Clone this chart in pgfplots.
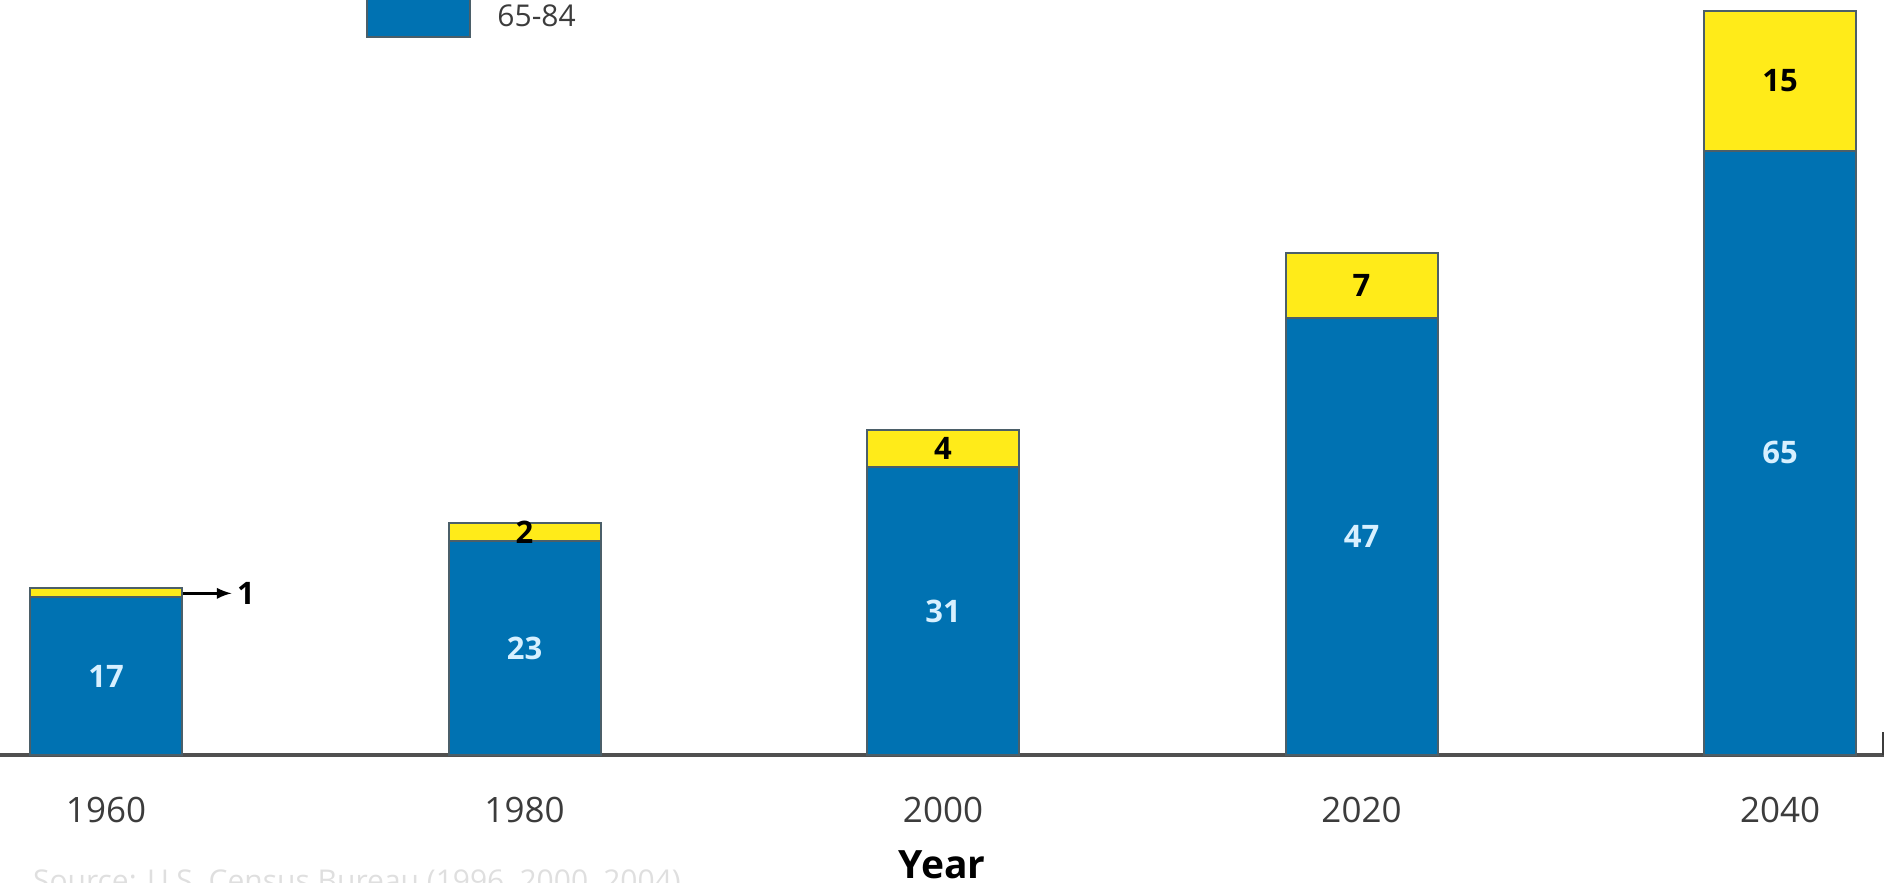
\documentclass[border=0pt]{standalone}
\usepackage{fontspec}
\setmainfont{Open Sans}
\usepackage{pgfplots}
\usepackage{pgfplotstable}
\pgfplotsset{compat=1.18}

\definecolor{cblue}{RGB}{0,114,178}
\definecolor{cyell}{RGB}{255,235,25}
\definecolor{edge}{RGB}{75,95,105}
\definecolor{tickc}{RGB}{60,60,60}
\definecolor{lbl}{RGB}{215,240,255}

% age 65-84 and 85+ (millions)
\pgfplotstableread{
x  young old  oldlab
0  17    1    {}
1  23    2    2
2  31    4    4
3  47    7    7
4  65    15   15
}\agedata

\begin{document}
\begin{tikzpicture}
\begin{axis}[
  name=ax,
  ybar stacked,
  x=209.25pt, y=4.65pt,
  bar width=76pt,
  xmin=-0.2533, xmax=4.2485,
  ymin=0, ymax=81.2,
  enlargelimits=false,
  axis x line*=bottom,
  axis y line=none,
  x axis line style={line width=2pt, color=tickc!90},
  xtick={0,1,2,3,4},
  xticklabels={1960,1980,2000,2020,2040},
  major tick length=0pt,
  xticklabel style={anchor=base, yshift=-33.5pt, text=tickc, font=\fontsize{17.5}{20}\selectfont},
  xlabel={Year},
  xlabel style={at={(axis description cs:0.5,0)}, anchor=base, yshift=-61.5pt, font=\bfseries\fontsize{19.5}{22}\selectfont},
  reverse legend,
  legend cell align=left,
  legend image code/.code={\draw[#1] (0pt,-9.5pt) rectangle (51.5pt,16.5pt);},
  legend style={at={(axis description cs:0.1943,0.9497)}, anchor=south west,
    draw=none, fill=none, inner sep=0pt, row sep=14pt, text=tickc,
    font=\fontsize{15}{18}\selectfont, nodes={inner sep=0pt},
    /tikz/every odd column/.append style={column sep=13pt}},
  nodes near coords={\pgfplotspointmeta},
  point meta=explicit symbolic,
  every node near coord/.append style={anchor=center, font=\bfseries\fontsize{15.5}{18}\selectfont},
]
\addplot[fill=cblue, draw=edge, line width=1pt,
  every node near coord/.append style={text=lbl}]
  table[x=x, y=young, meta=young] {\agedata};
\addplot[fill=cyell, draw=edge, line width=1pt,
  every node near coord/.append style={text=black}]
  table[x=x, y=old, meta=oldlab] {\agedata};
\legend{65-84, 85+}
% label for the thin 1960 segment
\draw[-latex, line width=1.5pt] (axis cs:0.182,17.4) -- (axis cs:0.30,17.4)
  node[right, inner sep=2pt, font=\bfseries\fontsize{15.5}{18}\selectfont] {1};
\draw[line width=1pt, color=tickc] (axis cs:4.247,0) -- (axis cs:4.247,2.5);
\end{axis}
\node[anchor=west, text=gray!25, font=\fontsize{15}{18}\selectfont] at ([yshift=-64pt, xshift=13pt]ax.south west)
  {Source: U.S. Census Bureau (1996, 2000, 2004)};
\pgfresetboundingbox
\path[use as bounding box] (ax.south west) ++(0pt,-63.5pt) rectangle (ax.north east);
\end{tikzpicture}
\end{document}
